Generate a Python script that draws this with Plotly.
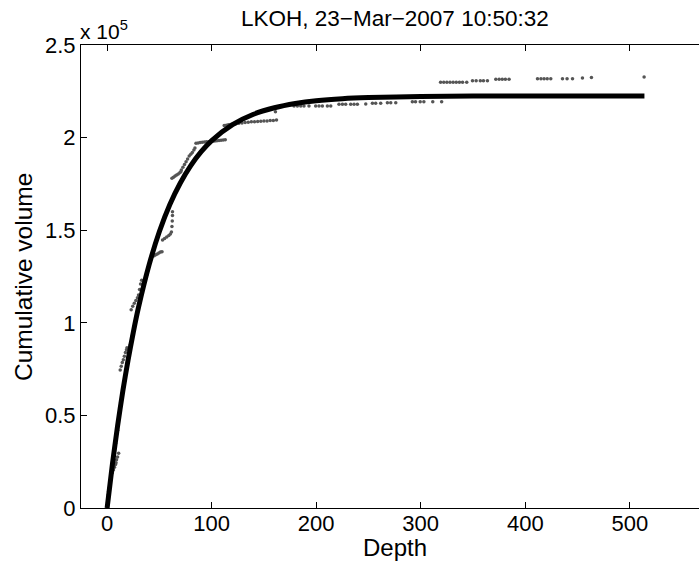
import plotly.graph_objects as go

# ---- fitted curve ----
line_depth = [0, 5, 10, 15, 20, 25, 30, 40, 50, 60, 70, 80, 90, 100, 120, 140, 160,
              180, 200, 225, 250, 300, 350, 400, 450, 514]
line_volume = [0, 23400, 44300, 63100, 79800, 94800, 108300, 131000, 149300, 163900,
               175500, 184900, 192400, 198400, 207000, 212600, 216100, 218400, 219900,
               221000, 221600, 222200, 222400, 222500, 222500, 222500]

dot_depth = [
    0, 0, 0.5, 1, 1, 1.5, 2, 2.5, 3, 3.5, 4,
    5, 6, 7, 8, 8.5, 9, 10, 11,
    6, 8, 10, 11, 12, 13,
    12.5, 13.5, 14.5, 15.5, 16.5, 17.5, 18.5, 19,
    20, 22, 24,
    23, 24.5, 26, 27.5, 29, 30, 31, 32, 33,
    35, 38,
    43, 45, 46.5, 48, 49.5, 51, 52.5,
    53, 55, 57, 59, 60.5, 61.5, 62, 62.3, 62.5, 62.5,
    62, 63.5, 65, 66.5, 68, 69.5, 70.5,
    71, 72.5, 74, 75.5, 77, 78.5, 80, 81.5, 83, 84,
    85, 87, 89, 91, 93, 95, 97, 99, 101, 103, 105, 107, 109, 111, 113,
    112, 114, 116, 118, 120, 123, 126, 129, 132, 135, 138, 141, 144, 147, 150,
    153, 156, 159, 162,
    161,
    178.8, 182.0, 185.2, 188.3, 193.1, 199.5, 202.7, 205.9, 210.7, 213.9,
    221.8, 225.1, 228.2, 233.0, 236.2, 239.4, 247.4, 253.8, 256.9, 261.7,
    268.1, 271.3, 276.1,
    292, 295, 299.5, 303, 311.5, 320,
    319, 322, 325, 328, 331, 334, 337, 340, 344,
    349.5, 353, 357, 360, 363.8,
    371.8, 375, 378, 381, 384.5,
    411.7, 415, 418, 421, 424.4,
    435.6, 440, 445.2,
    454.7, 463.3, 513.7,
]
dot_volume = [
    0, 1500, 3000, 5000, 7000, 9000, 11000, 13000, 15000, 17000, 18500,
    19000, 20500, 22000, 23500, 24500, 26000, 27500, 29500,
    28000, 35000, 42000, 48000, 52000, 57000,
    74500, 76500, 78500, 80000, 82000, 84000, 85500, 86500,
    80000, 88000, 93000,
    107000, 109000, 110500, 112000, 113500, 115000, 118000, 121000, 123000,
    120000, 126000,
    135700, 136200, 136700, 137200, 137700, 138200, 138400,
    144700, 145500, 146300, 147200, 148000, 149000, 152000, 155000, 158000, 160000,
    178000, 178600, 179200, 179800, 180400, 181000, 181500,
    182500, 184000, 185500, 187000, 188500, 190000, 191000, 192000, 193300, 194400,
    196900, 197100, 197300, 197500, 197600, 197700, 197800, 197900, 198000, 198100,
    198300, 198500, 198600, 198700, 198800,
    206500, 206700, 206900, 207100, 207300, 207500, 207700, 207900, 208100, 208300,
    208500, 208600, 208700, 208800, 208900, 209000, 209200, 209300, 209500,
    214000,
    217100, 217100, 217100, 217100, 217100, 217100, 217100, 217100, 217100, 217100,
    218000, 218000, 218000, 218000, 218000, 218000, 218200, 218500, 218500, 218500,
    218800, 218800, 218800,
    219400, 219400, 219400, 219400, 219400, 219400,
    229900, 229900, 229900, 229900, 229900, 229900, 229900, 229900, 229900,
    230700, 230700, 230700, 230700, 230700,
    231500, 231500, 231500, 231500, 231500,
    231800, 231800, 231800, 231800, 231800,
    231800, 231800, 231800,
    232200, 232500, 232700,
]

x_ticks = [0, 100, 200, 300, 400, 500]
y_ticks = [0, 50000, 100000, 150000, 200000, 250000]
y_tick_labels = ["0", "0.5", "1", "1.5", "2", "2.5"]

title_text = "LKOH, 23\u2212Mar\u22122007 10:50:32"
x_label = "Depth"
y_label = "Cumulative volume"

FONT = "Liberation Sans, Arial, Helvetica, sans-serif"

fig = go.Figure()
fig.add_trace(go.Scatter(
    x=dot_depth, y=dot_volume, mode="markers",
    marker=dict(size=3.5, color="#555555", line=dict(width=0)),
    showlegend=False, hoverinfo="skip"))
fig.add_trace(go.Scatter(
    x=line_depth, y=line_volume, mode="lines",
    line=dict(color="black", width=5, shape="spline", smoothing=0.8),
    showlegend=False, hoverinfo="skip"))

fig.update_layout(
    width=699, height=564,
    margin=dict(l=81, r=0, t=45, b=56, pad=0),
    paper_bgcolor="white", plot_bgcolor="white",
    font=dict(family=FONT, color="black"),
    showlegend=False,
    xaxis=dict(range=[-25, 566.2], tickvals=x_ticks, ticks="inside", ticklen=6,
               tickcolor="black", tickwidth=1, showline=True, linecolor="black",
               linewidth=1, mirror="ticks", showgrid=False, zeroline=False,
               ticklabelstandoff=-4,
               tickfont=dict(size=22, family=FONT, color="black")),
    yaxis=dict(range=[0, 250000], tickvals=y_ticks, ticktext=y_tick_labels,
               ticks="inside", ticklen=6, tickcolor="black", tickwidth=1,
               showline=True, linecolor="black", linewidth=1, mirror=False,
               showgrid=False, zeroline=False,
               tickfont=dict(size=22, family=FONT, color="black")),
    annotations=[
        dict(text=title_text, xref="x", x=275, yref="paper", y=1.0562,
             xanchor="center", yanchor="middle", showarrow=False,
             font=dict(size=22.5, family=FONT, color="black")),
        dict(text=x_label, xref="x", x=275, yref="paper", y=-0.085,
             xanchor="center", yanchor="middle", showarrow=False,
             font=dict(size=24, family=FONT, color="black")),
        dict(text=y_label, xref="paper", x=-0.0922, yref="paper", y=0.499,
             xanchor="center", yanchor="middle", textangle=-90, showarrow=False,
             font=dict(size=24.5, family=FONT, color="black")),
        dict(text="x 10<sup>5</sup>", xref="x", x=-25, yref="paper", y=1.0,
             xanchor="left", yanchor="bottom", xshift=-3, showarrow=False,
             font=dict(size=21, family=FONT, color="black")),
    ],
)

fig.write_html("out.html",
               config={"displayModeBar": False, "staticPlot": True},
               post_script="document.body.style.margin='0px';")
